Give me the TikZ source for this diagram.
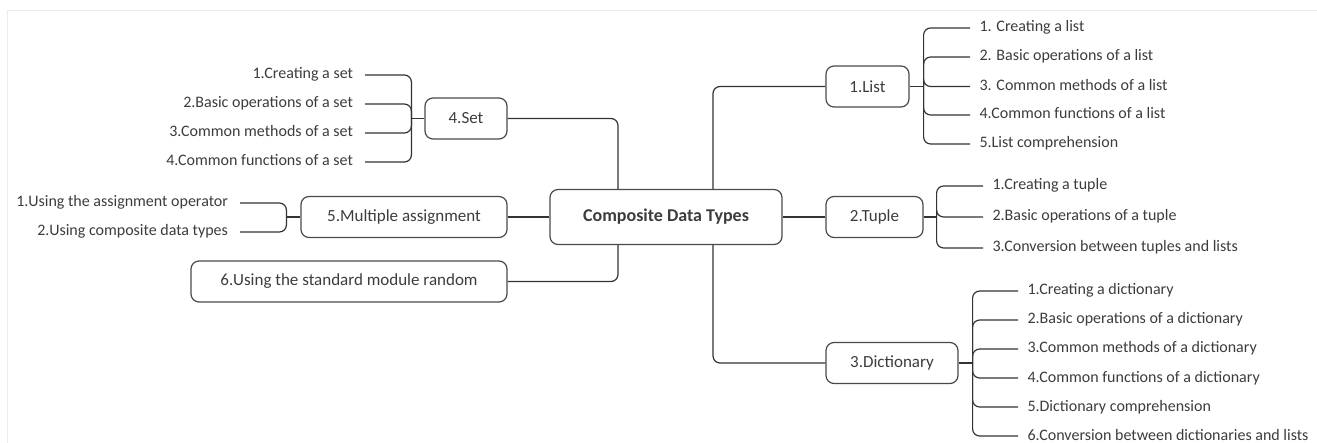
\documentclass[tikz,border=0pt]{standalone}
\usepackage{fontspec}
\setmainfont{Carlito}
\definecolor{ink}{HTML}{3C3C3C}
\definecolor{edgec}{HTML}{333333}
\definecolor{boxc}{HTML}{4A4A4A}
\definecolor{framec}{HTML}{ECECE4}
\tikzset{
  box/.style={draw=boxc, line width=1.2pt, rounded corners=8pt, minimum height=41pt, inner sep=0pt, text=ink, font=\fontsize{17}{20}\selectfont},
  leafR/.style={inner sep=0pt, outer xsep=9.5pt, anchor=west, text=ink, font=\fontsize{16}{19}\selectfont, text height=11pt, text depth=3pt},
  leafL/.style={inner sep=0pt, outer xsep=12pt, anchor=east, text=ink, font=\fontsize{16}{19}\selectfont, text height=11pt, text depth=3pt},
  link/.style={draw=edgec, line width=1.2pt, rounded corners=7pt},
}
\begin{document}
\begin{tikzpicture}[x=1pt,y=-1pt]
\useasboundingbox (0,0) rectangle (1317,443);
\draw[framec, line width=1pt] (7,443) -- (7,10.5) -- (1317,10.5);

% root
\node[box, minimum width=232pt, minimum height=55pt, font=\bfseries\fontsize{18}{21}\selectfont, text=ink] (root) at (666,217) {Composite Data Types};

% main branches
\node[box, minimum width=83pt] (list) at (867.5,86.5) {1.List};
\node[box, minimum width=97pt] (tuple) at (874.5,217) {2.Tuple};
\node[box, minimum width=132pt] (dict) at (892,363) {3.Dictionary};
\node[box, minimum width=82pt] (set) at (466,118.5) {4.Set};
\node[box, minimum width=206pt] (ma) at (404,217) {5.Multiple assignment};
\node[box, minimum width=316pt] (rand) at (349,281.5) {6.Using the standard module random};

\draw[link] ([xshift=47]root.north) |- (list.west);
\draw[link] (root.east) -- (tuple.west);
\draw[link] ([xshift=47]root.south) |- (dict.west);
\draw[link] (set.east) -| ([xshift=-48]root.north);
\draw[link] (ma.east) -- (root.west);
\draw[link] (rand.east) -| ([xshift=-48]root.south);

% list leaves
\node[leafR] (l1) at (970,28) {1. Creating a list};
\node[leafR] (l2) at (970,57) {2. Basic operations of a list};
\node[leafR] (l3) at (970,86.5) {3. Common methods of a list};
\node[leafR] (l4) at (970,115) {4.Common functions of a list};
\node[leafR] (l5) at (970,144) {5.List comprehension};
\coordinate (jl) at ([xshift=14]list.east);
\draw[link] (list.east) -- (jl);
\foreach \c in {l1,l2,l3,l4,l5} \draw[link] (jl) |- (\c.west);

% tuple leaves
\node[leafR] (t1) at (983,186) {1.Creating a tuple};
\node[leafR] (t2) at (983,217) {2.Basic operations of a tuple};
\node[leafR] (t3) at (983,248) {3.Conversion between tuples and lists};
\coordinate (jt) at ([xshift=13]tuple.east);
\draw[link] (tuple.east) -- (jt);
\foreach \c in {t1,t2,t3} \draw[link] (jt) |- (\c.west);

% dictionary leaves
\node[leafR] (d1) at (1018,291) {1.Creating a dictionary};
\node[leafR] (d2) at (1018,320) {2.Basic operations of a dictionary};
\node[leafR] (d3) at (1018,349) {3.Common methods of a dictionary};
\node[leafR] (d4) at (1018,378) {4.Common functions of a dictionary};
\node[leafR] (d5) at (1018,407) {5.Dictionary comprehension};
\node[leafR] (d6) at (1018,436) {6.Conversion between dictionaries and lists};
\coordinate (jd) at ([xshift=14]dict.east);
\draw[link] (dict.east) -- (jd);
\foreach \c in {d1,d2,d3,d4,d5,d6} \draw[link] (jd) |- (\c.west);

% set leaves
\node[leafL] (s1) at (365,75) {1.Creating a set};
\node[leafL] (s2) at (365,104) {2.Basic operations of a set};
\node[leafL] (s3) at (365,133) {3.Common methods of a set};
\node[leafL] (s4) at (365,162) {4.Common functions of a set};
\coordinate (js) at ([xshift=-13]set.west);
\draw[link] (set.west) -- (js);
\foreach \c in {s1,s2,s3,s4} \draw[link] (js) |- (\c.east);

% multiple assignment leaves
\node[leafL] (m1) at (240,203) {1.Using the assignment operator};
\node[leafL] (m2) at (240,232) {2.Using composite data types};
\coordinate (jm) at ([xshift=-14]ma.west);
\draw[link] (ma.west) -- (jm);
\foreach \c in {m1,m2} \draw[link] (jm) |- (\c.east);
\end{tikzpicture}
\end{document}
